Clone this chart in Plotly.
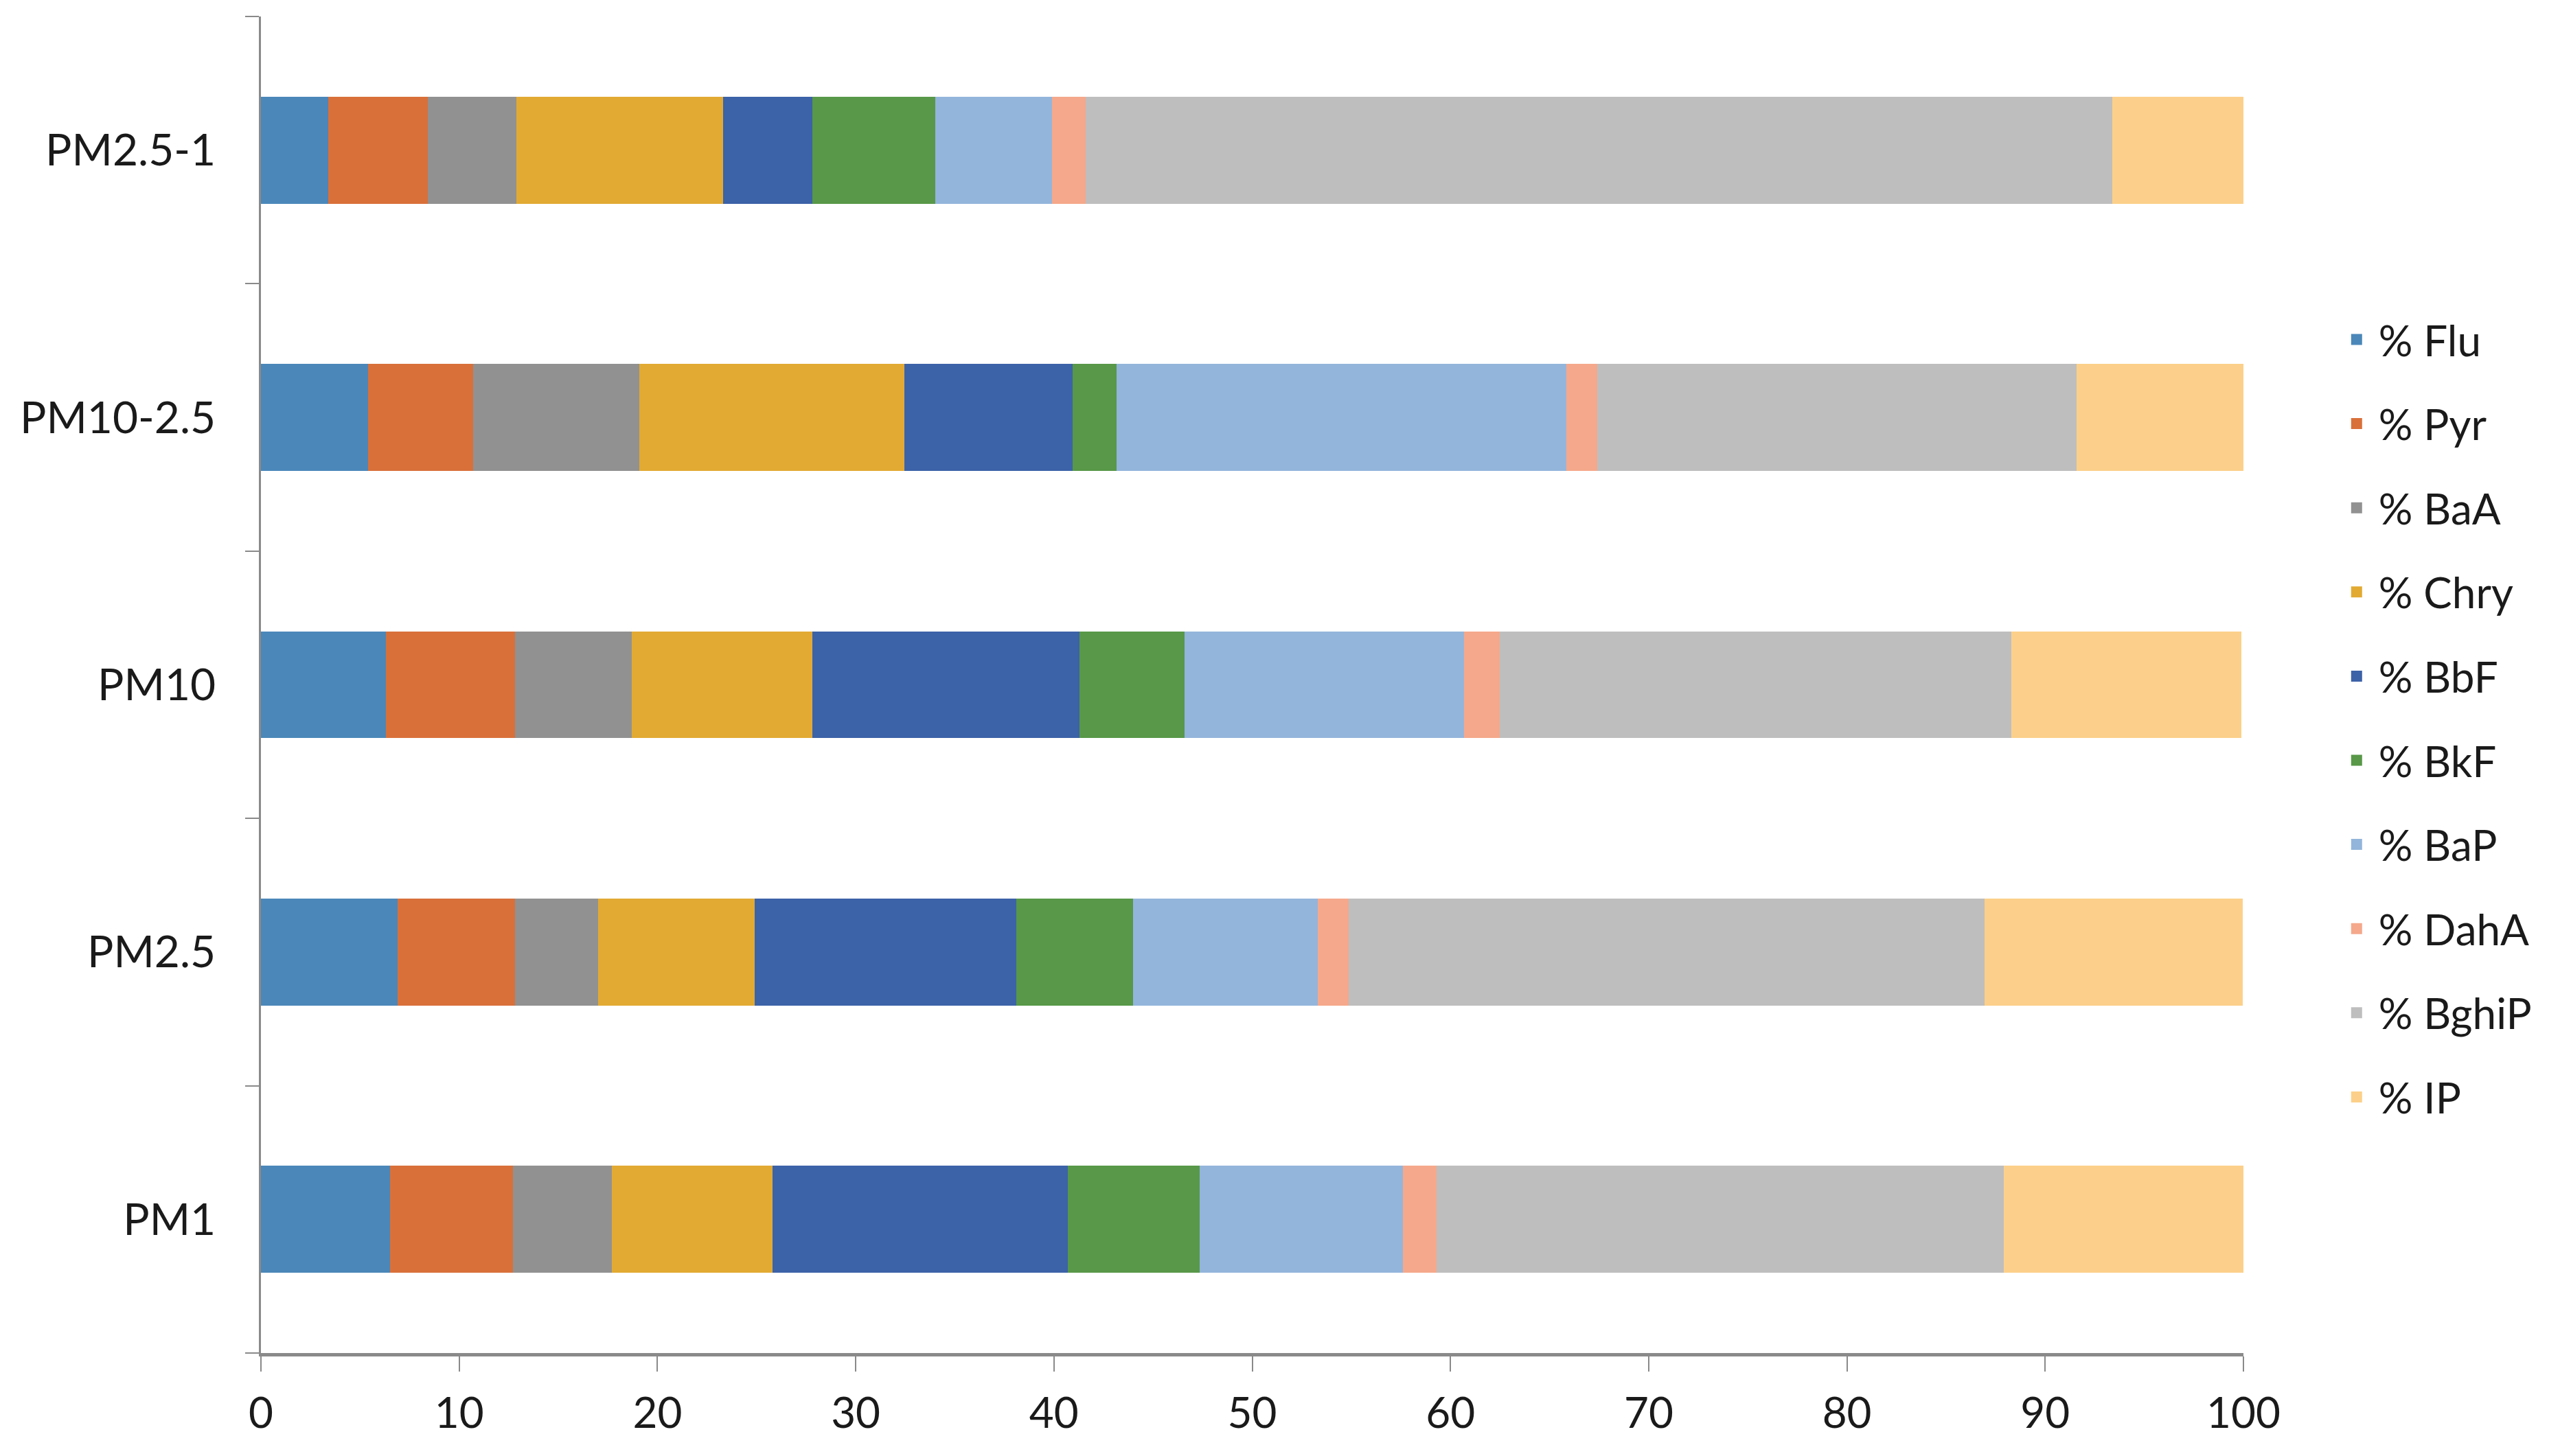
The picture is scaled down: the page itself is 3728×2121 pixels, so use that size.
import plotly.graph_objects as go

categories = ["PM1", "PM2.5", "PM10", "PM10-2.5", "PM2.5-1"]
species = ["% Flu", "% Pyr", "% BaA", "% Chry", "% BbF", "% BkF", "% BaP", "% DahA", "% BghiP", "% IP"]

flu   = [6.5, 6.9, 6.3, 5.4, 3.4]
pyr   = [6.2, 5.9, 6.5, 5.3, 5.0]
baa   = [5.0, 4.2, 5.9, 8.4, 4.5]
chry  = [8.1, 7.9, 9.1, 13.35, 10.4]
bbf   = [14.9, 13.2, 13.5, 8.5, 4.5]
bkf   = [6.65, 5.9, 5.3, 2.2, 6.2]
bap   = [10.25, 9.3, 14.1, 22.7, 5.9]
daha  = [1.7, 1.55, 1.8, 1.55, 1.7]
bghip = [28.6, 32.1, 25.8, 24.2, 51.8]
ip    = [12.2, 13.0, 11.6, 8.5, 6.6]

series = [flu, pyr, baa, chry, bbf, bkf, bap, daha, bghip, ip]
colors = ["#4B87B9", "#D9703A", "#919191", "#E2AA33", "#3C62A8",
          "#589848", "#93B5DB", "#F5A88B", "#BEBEBE", "#FCD08A"]
xticks = [0, 10, 20, 30, 40, 50, 60, 70, 80, 90, 100]

FONT = "Lato, Carlito, 'Liberation Sans', sans-serif"

fig = go.Figure()
for name, vals, col in zip(species, series, colors):
    fig.add_trace(go.Bar(
        y=categories, x=vals, name=name, orientation="h",
        marker=dict(color=col, line=dict(width=0)),
        legendgroup=name, showlegend=False,
    ))
# legend entries with larger square swatches
for name, col in zip(species, colors):
    fig.add_trace(go.Scatter(
        x=[None], y=[None], mode="markers", name=name,
        marker=dict(symbol="square", size=16, color=col),
        legendgroup=name, showlegend=True, hoverinfo="skip",
    ))

fig.update_layout(
    width=3720, height=2113, autosize=False,
    barmode="stack", bargap=0.6,
    plot_bgcolor="white", paper_bgcolor="white",
    margin=dict(l=372, r=461, t=16, b=150, pad=0),
    font=dict(family=FONT, size=60, color="#1a1a1a"),
    legend=dict(
        x=1.046, xanchor="left", y=0.475, yanchor="middle",
        traceorder="grouped", tracegroupgap=39, itemsizing="trace",
        itemwidth=54,
        font=dict(family=FONT, size=62, color="#1a1a1a"),
        bgcolor="rgba(0,0,0,0)",
    ),
    showlegend=True,
)

fig.update_xaxes(
    range=[0, 100], tickvals=xticks, ticktext=[str(v) for v in xticks],
    showgrid=False, zeroline=False,
    showline=True, linecolor="#8a8a8a", linewidth=5,
    ticks="outside", ticklen=22, tickwidth=2, tickcolor="#8a8a8a",
    ticklabelstandoff=8,
    tickfont=dict(family=FONT, size=62, color="#1a1a1a"),
)
fig.update_yaxes(
    type="category", categoryorder="array", categoryarray=categories,
    range=[-0.5, 4.5],
    showgrid=False, zeroline=False,
    showline=True, linecolor="#8a8a8a", linewidth=3,
    ticks="outside", ticklen=20, tickwidth=2, tickcolor="#8a8a8a",
    tickson="boundaries", ticklabelstandoff=50,
    tickfont=dict(family=FONT, size=64, color="#1a1a1a"),
)

fig.write_html("out.html")
